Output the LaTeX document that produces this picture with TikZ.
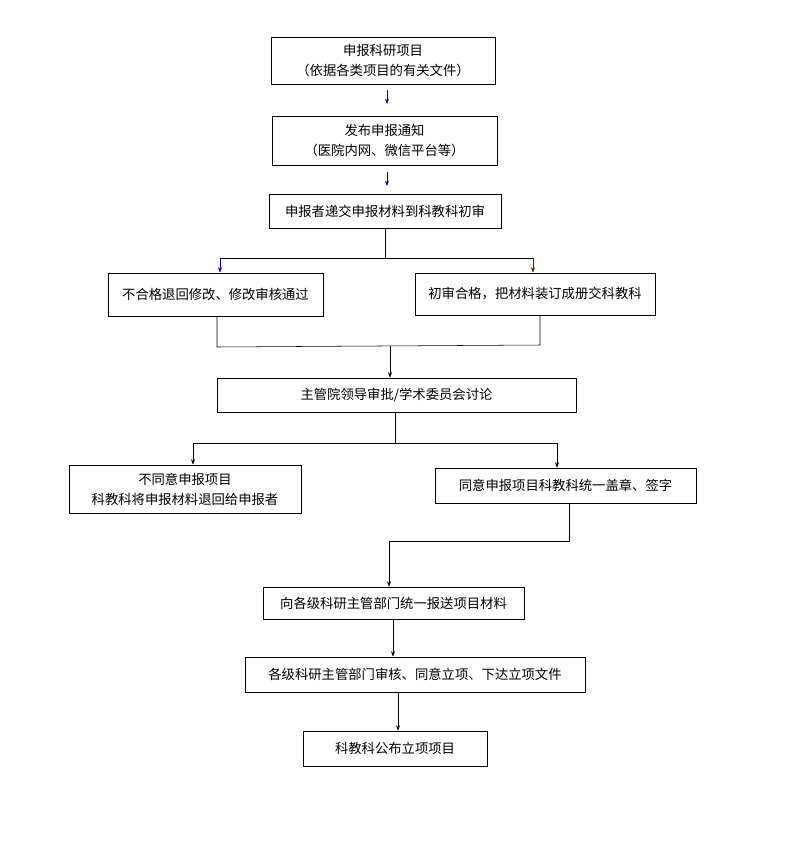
\documentclass[tikz,border=0pt]{standalone}
\usepackage{fontspec}
\newfontfamily\cjk{Noto Sans CJK SC}
\usetikzlibrary{arrows.meta}
\begin{document}
\begin{tikzpicture}[x=0.75pt,y=-0.75pt,
  box/.style={draw,semithick,inner sep=0,font=\cjk\fontsize{10}{15}\selectfont,align=center},
  arr/.style={-{Stealth[length=4pt,width=3pt]},thin},
  ln/.style={thin}]
\useasboundingbox[fill=white] (0,0) rectangle (793,847);
\newcommand{\bx}[6]{\node[box,minimum width={(#4-#2)*0.75pt},minimum height={(#5-#3)*0.75pt}] (#1) at ({(#2+#4)/2},{(#3+#5)/2}) {#6};}
\bx{b1}{271}{37}{495}{84}{申报科研项目\\（依据各类项目的有关文件）}
\bx{b2}{272}{116}{497}{165}{发布申报通知\\（医院内网、微信平台等）}
\bx{b3}{269}{194}{501}{228}{申报者递交申报材料到科教科初审}
\bx{b4}{108}{273}{323}{316}{不合格退回修改、修改审核通过}
\bx{b5}{415}{273}{655}{315}{初审合格，把材料装订成册交科教科}
\bx{b6}{217}{378}{576}{412}{主管院领导审批/学术委员会讨论}
\bx{b7}{69}{465}{301}{513}{不同意申报项目\\科教科将申报材料退回给申报者}
\bx{b8}{435}{468}{696}{503}{同意申报项目科教科统一盖章、签字}
\bx{b9}{263}{587}{524}{619}{向各级科研主管部门统一报送项目材料}
\bx{b10}{245}{657}{585}{692}{各级科研主管部门审核、同意立项、下达立项文件}
\bx{b11}{303}{731}{487}{766}{科教科公布立项项目}
\coordinate (a1s) at (387,90); \coordinate (a1e) at (387,104);
\coordinate (a2s) at (387,172); \coordinate (a2e) at (387,186);
\draw[arr,color=blue!50!black] (a1s) -- (a1e);
\draw[arr,color=blue!50!black] (a2s) -- (a2e);
\coordinate (j1) at (385,258);
\draw[ln] (b3.south -| j1) -- (j1);
\draw[ln] (220,258) -- (533,258);
\draw[arr,color=blue!60!black] (220,258) -- (b4.north -| 220,0);
\draw[arr,color=red!60!black] (533,258) -- (b5.north -| 533,0);
\coordinate (m1) at (217,347); \coordinate (m2) at (540,345);
\draw[ln] (b4.south -| m1) -- (m1) -- (m2) -- (b5.south -| m2);
\draw[arr] (390,346) -- (b6.north -| 390,0);
\coordinate (j2) at (395,443);
\draw[ln] (b6.south -| j2) -- (j2);
\draw[ln] (193,443) -- (557,443);
\draw[arr] (193,443) -- (b7.north -| 193,0);
\draw[arr] (557,443) -- (b8.north -| 557,0);
\coordinate (k1) at (569,541); \coordinate (k2) at (389,541);
\draw[ln] (b8.south -| k1) -- (k1) -- (k2);
\draw[arr] (k2) -- (b9.north -| k2);
\draw[arr] (b9.south -| 393,0) -- (b10.north -| 393,0);
\draw[arr] (b10.south -| 398,0) -- (b11.north -| 398,0);
\end{tikzpicture}
\end{document}
